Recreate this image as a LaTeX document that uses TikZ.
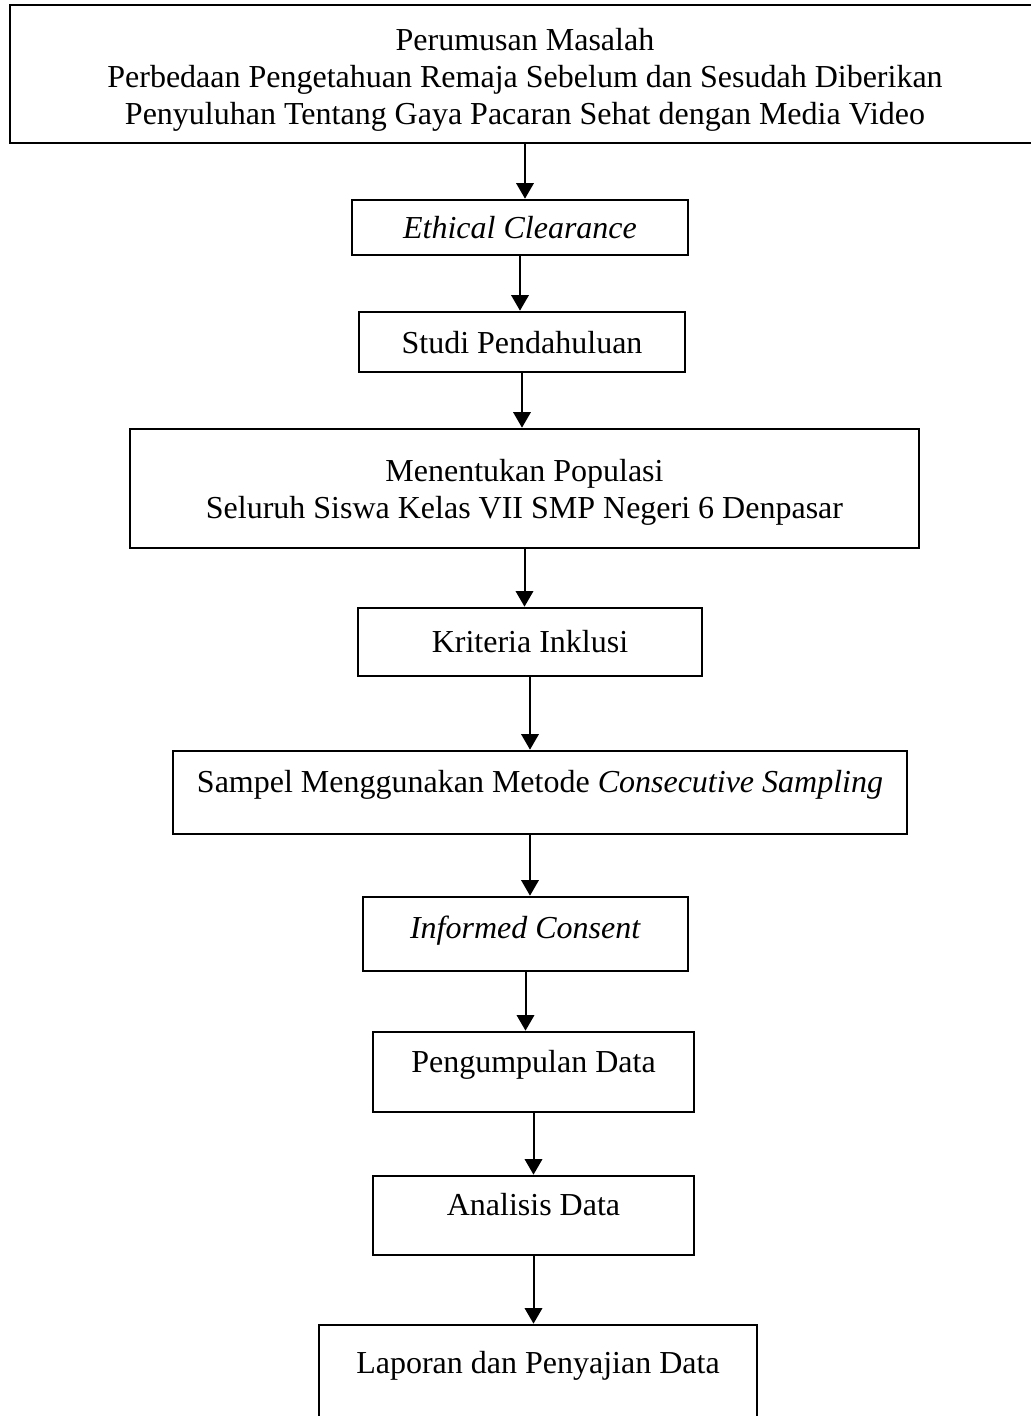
\documentclass[tikz,border=0pt]{standalone}
\usepackage{fontspec}
\setmainfont{Liberation Serif}
\usetikzlibrary{arrows.meta}
\tikzset{
  box/.style={draw, line width=1pt, inner ysep=0pt, align=center,
    font=\fontsize{12}{13.8}\selectfont},
  arr/.style={line width=0.75pt, -{Triangle[width=6.5pt,length=5.8pt]}}
}

\begin{document}
\begin{tikzpicture}[x=0.375pt, y=-0.375pt]
        \useasboundingbox (0,0) rectangle (1031,1416);

        % Boxes of the flow
        \node[box, minimum width=386.25pt, text height=44.625pt, text depth=7.125pt] (prob) at (525,74)
            {Perumusan Masalah\\Perbedaan Pengetahuan Remaja Sebelum dan Sesudah Diberikan\\Penyuluhan Tentang Gaya Pacaran Sehat dengan Media Video};
        \node[box, minimum width=126pt, text height=14.25pt, text depth=6.375pt] (eth) at (520,227.5)
            {\textit{Ethical Clearance}};
        \node[box, minimum width=122.25pt, text height=15.375pt, text depth=7.125pt] (stu) at (522,342)
            {Studi Pendahuluan};
        \node[box, minimum width=295.875pt, text height=33.375pt, text depth=11.25pt] (pop) at (524.5,488.5)
            {Menentukan Populasi\\Seluruh Siswa Kelas VII SMP Negeri 6 Denpasar};
        \node[box, minimum width=129pt, text height=16.5pt, text depth=9pt] (kri) at (530,642)
            {Kriteria Inklusi};
        \node[box, minimum width=275.25pt, text height=15.375pt, text depth=15.75pt] (sam) at (540,792.5)
            {Sampel Menggunakan Metode \textit{Consecutive Sampling}};
        \node[box, minimum width=121.875pt, text height=15.375pt, text depth=12.375pt] (inf) at (525.5,934)
            {\textit{Informed Consent}};
        \node[box, minimum width=120.375pt, text height=15pt, text depth=15pt] (pen) at (533.5,1072)
            {Pengumpulan Data};
        \node[box, minimum width=120.375pt, text height=14.625pt, text depth=15pt] (ana) at (533.5,1215.5)
            {Analisis Data};
        \node[box, minimum width=164.25pt, text height=18pt, text depth=19.5pt] (lap) at (538,1375)
            {Laporan dan Penyajian Data};

        % Arrows
        \foreach \a/\b in {prob/eth, eth/stu, stu/pop, pop/kri, kri/sam, inf/pen, pen/ana, ana/lap}
            \draw[arr] (\a.south) -- (\a.south |- \b.north);
        \draw[arr] (kri.south |- sam.south) -- (kri.south |- inf.north);
\end{tikzpicture}
\end{document}
